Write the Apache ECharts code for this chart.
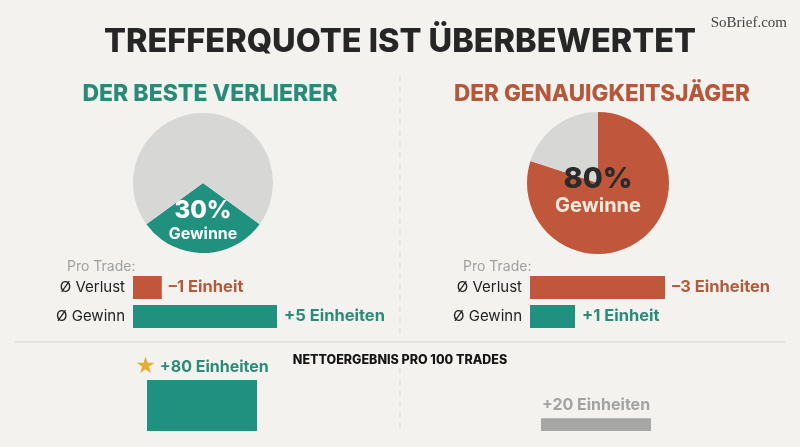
<!DOCTYPE html>
<html lang="de">

<head>
    <meta charset="UTF-8">
    <title>Trefferquote ist überbewertet</title>
    <script src="https://cdn.jsdelivr.net/npm/echarts@6.0.0/dist/echarts.min.js"></script>
    <style>
        html, body { margin: 0; padding: 0; background: #f3f2ee; }
        #my-chart { width: 800px; height: 447px; }
    </style>
</head>

<body>
    <div id="my-chart"></div>
    <script>
        // --- data ---
        const pieNames = ['Gewinne', 'Verluste'];
        const winRateLeft = [30, 70];      // Der beste Verlierer
        const winRateRight = [80, 20];     // Der Genauigkeitsjäger

        const tradeCats = ['Ø Verlust', 'Ø Gewinn'];
        const perTradeLeft = [1, 5];       // Einheiten
        const perTradeRight = [3, 1];
        const perTradeSigns = ['–', '+'];

        const netCats = ['Der beste Verlierer', 'Der Genauigkeitsjäger'];
        const netResult = [80, 20];        // Einheiten pro 100 Trades

        const teal = '#21917f';
        const orange = '#c0563a';
        const pieGray = '#d7d7d6';
        const FONT = 'Inter';

        function unitText(v) {
            return v + (v === 1 ? ' Einheit' : ' Einheiten');
        }

        window.onload = function () {
            var myChart = echarts.init(document.getElementById('my-chart'));

            function tradeSeries(idx, values) {
                return {
                    type: 'bar',
                    xAxisIndex: idx,
                    yAxisIndex: idx,
                    barWidth: 23,
                    silent: true,
                    data: values.map((v, i) => ({
                        value: v,
                        itemStyle: { color: i === 0 ? orange : teal },
                        label: { color: i === 0 ? '#b5593b' : '#2a8b7a' }
                    })),
                    label: {
                        show: true,
                        position: 'right',
                        distance: 7,
                        fontFamily: FONT,
                        fontWeight: 'bold',
                        fontSize: 16.5,
                        formatter: p => perTradeSigns[p.dataIndex] + unitText(p.value)
                    }
                };
            }

            function tradeYAxis(idx) {
                return {
                    type: 'category',
                    gridIndex: idx,
                    inverse: true,
                    data: tradeCats,
                    axisLine: { show: false },
                    axisTick: { show: false },
                    axisLabel: { color: '#222', fontSize: 15, fontFamily: FONT, margin: 8 }
                };
            }

            function tradeXAxis(idx, max) {
                return {
                    type: 'value', gridIndex: idx, min: 0, max: max, show: false
                };
            }

            let option = {
                backgroundColor: '#f3f2ee',
                animation: false,
                title: [
                    {
                        text: 'TREFFERQUOTE IST ÜBERBEWERTET',
                        left: 'center', top: 21,
                        textStyle: { fontFamily: FONT, fontWeight: 800, fontSize: 32.5, color: '#262626' }
                    },
                    {
                        text: 'SoBrief.com',
                        right: 8, top: 11,
                        textStyle: { fontFamily: 'Liberation Serif', fontWeight: 'normal', fontSize: 15, color: '#444' }
                    },
                    {
                        text: 'DER BESTE VERLIERER',
                        left: 205, top: 78, textAlign: 'center',
                        textStyle: { fontFamily: FONT, fontWeight: 800, fontSize: 23, color: '#2a8a78' }
                    },
                    {
                        text: 'DER GENAUIGKEITSJÄGER',
                        left: 597, top: 78, textAlign: 'center',
                        textStyle: { fontFamily: FONT, fontWeight: 800, fontSize: 22.5, color: '#b5583a' }
                    },
                    {
                        text: 'Pro Trade:',
                        left: 62, top: 255,
                        textStyle: { fontFamily: FONT, fontWeight: 'normal', fontSize: 14, color: '#a0a0a0' }
                    },
                    {
                        text: 'Pro Trade:',
                        left: 458, top: 255,
                        textStyle: { fontFamily: FONT, fontWeight: 'normal', fontSize: 14, color: '#a0a0a0' }
                    },
                    {
                        text: 'NETTOERGEBNIS PRO 100 TRADES',
                        left: 'center', top: 349,
                        textStyle: { fontFamily: FONT, fontWeight: 800, fontSize: 12.5, color: '#151515' }
                    }
                ],
                graphic: [
                    {
                        type: 'line', silent: true,
                        shape: { x1: 400, y1: 75, x2: 400, y2: 335 },
                        style: { stroke: '#d9d9d6', lineWidth: 1, lineDash: [6, 5] }
                    },
                    {
                        type: 'line', silent: true,
                        shape: { x1: 400, y1: 368, x2: 400, y2: 432 },
                        style: { stroke: '#d9d9d6', lineWidth: 1, lineDash: [6, 5] }
                    },
                    {
                        type: 'line', silent: true,
                        shape: { x1: 15, y1: 342, x2: 785, y2: 342 },
                        style: { stroke: '#dcdcd9', lineWidth: 1.5 }
                    }
                ],
                grid: [
                    { left: 133, top: 273, width: 144, height: 58 },
                    { left: 530, top: 273, width: 135, height: 58 },
                    { left: 5, top: 367.25, width: 788, height: 63.75 }
                ],
                xAxis: [
                    tradeXAxis(0, 5),
                    tradeXAxis(1, 3),
                    {
                        type: 'category', gridIndex: 2, data: netCats, show: false
                    }
                ],
                yAxis: [
                    tradeYAxis(0),
                    tradeYAxis(1),
                    { type: 'value', gridIndex: 2, min: 0, max: 100, show: false }
                ],
                series: [
                    {
                        type: 'pie',
                        center: [203, 183],
                        radius: 70,
                        startAngle: -36,
                        silent: true,
                        data: [
                            { name: pieNames[0], value: winRateLeft[0], itemStyle: { color: teal } },
                            { name: pieNames[1], value: winRateLeft[1], itemStyle: { color: pieGray }, label: { show: false } }
                        ],
                        label: {
                            show: true,
                            position: 'inside',
                            formatter: p => '{a|' + p.value + '%}\n{b|' + p.name + '}',
                            rich: {
                                a: { color: '#fff', fontFamily: FONT, fontWeight: 800, fontSize: 24, lineHeight: 26 },
                                b: { color: '#fff', fontFamily: FONT, fontWeight: 'bold', fontSize: 16, lineHeight: 20 }
                            }
                        },
                        labelLine: { show: false }
                    },
                    {
                        type: 'pie',
                        center: [598, 183],
                        radius: 71,
                        startAngle: 90,
                        silent: true,
                        data: [
                            { name: pieNames[0], value: winRateRight[0], itemStyle: { color: orange } },
                            { name: pieNames[1], value: winRateRight[1], itemStyle: { color: pieGray }, label: { show: false } }
                        ],
                        label: {
                            show: true,
                            position: 'center',
                            padding: [16, 0, 0, 0],
                            formatter: p => '{a|' + p.value + '%}\n{b|' + p.name + '}',
                            rich: {
                                a: { color: '#2b2b2b', fontFamily: FONT, fontWeight: 800, fontSize: 29, lineHeight: 30 },
                                b: { color: '#f6e9dd', fontFamily: FONT, fontWeight: 'bold', fontSize: 20, lineHeight: 24 }
                            }
                        },
                        labelLine: { show: false }
                    },
                    tradeSeries(0, perTradeLeft),
                    tradeSeries(1, perTradeRight),
                    {
                        type: 'bar',
                        xAxisIndex: 2,
                        yAxisIndex: 2,
                        barWidth: 110,
                        silent: true,
                        data: [
                            {
                                value: netResult[0],
                                itemStyle: { color: teal },
                                label: {
                                    formatter: p => '{s|★}{t|+' + unitText(p.value) + '}',
                                }
                            },
                            {
                                value: netResult[1],
                                itemStyle: { color: '#a6a6a5' },
                                label: {
                                    formatter: p => '{g|+' + unitText(p.value) + '}'
                                }
                            }
                        ],
                        label: {
                            show: true,
                            position: 'top',
                            distance: 3,
                            rich: {
                                s: { color: '#e4ad36', fontFamily: 'DejaVu Sans', fontSize: 23, lineHeight: 20, padding: [0, 4, 0, 0] },
                                t: { color: '#2a8b7a', fontFamily: FONT, fontWeight: 'bold', fontSize: 16, lineHeight: 20 },
                                g: { color: '#a3a3a3', fontFamily: FONT, fontWeight: 'bold', fontSize: 16, lineHeight: 20 }
                            }
                        }
                    }
                ]
            };

            myChart.setOption(option);
        };
    </script>
</body>

</html>
